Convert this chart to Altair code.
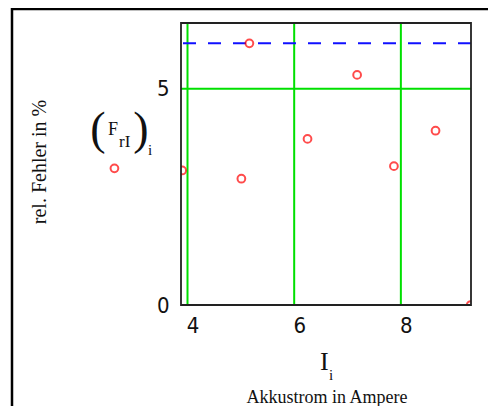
import altair as alt
import pandas as pd

# data
I_vals = [2.63, 3.90, 5.01, 5.16, 6.25, 7.18, 7.87, 8.65, 9.31]
F_vals = [3.16, 3.11, 2.92, 6.05, 3.84, 5.32, 3.21, 4.03, 0.0]
limit_vals = [6.05]
x_ticks = [4, 6, 8]
y_ticks = [0, 5]
x_grid = [4, 6, 8]
y_grid = [5]
x_domain = [3.878, 9.315]
y_domain = [0, 6.52]

W, H = 290, 282
GREEN = "#00e000"
LABEL_FONT = "DejaVu Sans Condensed, DejaVu Sans"
TITLE_FONT = "Liberation Serif"
SERIF = "Liberation Serif"

pts = pd.DataFrame({"I": I_vals, "F": F_vals})

xs = alt.Scale(domain=x_domain, nice=False, zero=False)
ys = alt.Scale(domain=y_domain, nice=False, zero=False)
xax = alt.Axis(values=x_ticks, title=None, grid=False, ticks=False, domain=False,
               labelFont=LABEL_FONT, labelFontSize=22, labelColor="#111",
               labelPadding=10, labelOffset=5)
yax = alt.Axis(values=y_ticks, title=None, grid=False, ticks=False, domain=False,
               labelFont=LABEL_FONT, labelFontSize=22, labelColor="#111",
               labelPadding=12)

X = alt.X("I:Q", scale=xs, axis=xax)
Y = alt.Y("F:Q", scale=ys, axis=yax)

vgrid = alt.Chart(pd.DataFrame({"I": x_grid})).mark_rule(color=GREEN, strokeWidth=2).encode(x=X)
hgrid = alt.Chart(pd.DataFrame({"F": y_grid})).mark_rule(color=GREEN, strokeWidth=2).encode(y=Y)
limit = alt.Chart(pd.DataFrame({"F": limit_vals})).mark_rule(
    color="#1010ff", strokeWidth=2, strokeDash=[13, 12]).encode(y=Y)

base_pts = alt.Chart(pts)
inside = base_pts.transform_filter(f"datum.I >= {x_domain[0]}").mark_point(
    shape="circle", filled=False, color="#ff0000", size=60, strokeWidth=2, clip=True
).encode(x=X, y=Y)
outside = base_pts.transform_filter(f"datum.I < {x_domain[0]}").mark_point(
    shape="circle", filled=False, color="#ff0000", size=60, strokeWidth=2, clip=False
).encode(x=X, y=Y)

one = alt.Data(values=[{}])
frame = alt.Chart(one).mark_rect(fillOpacity=0, stroke="#222", strokeWidth=1.8).encode(
    x=alt.value(0), x2=alt.value(W), y=alt.value(0), y2=alt.value(H))
outer_top = alt.Chart(one).mark_rule(color="#000", strokeWidth=2.5, clip=False).encode(
    x=alt.value(-170), x2=alt.value(330), y=alt.value(-14))
outer_left = alt.Chart(one).mark_rule(color="#000", strokeWidth=2.5, clip=False).encode(
    x=alt.value(-169), y=alt.value(-15), y2=alt.value(420))


def txt(s, x, y, size, font, align="left", angle=0, baseline="alphabetic", weight="normal"):
    return alt.Chart(one).mark_text(text=s, font=font, fontSize=size, align=align,
                                    baseline=baseline, angle=angle, color="#111",
                                    fontWeight=weight).encode(
        x=alt.value(x), y=alt.value(y))


texts = [
    txt("rel. Fehler in %", -141, 139, 20, TITLE_FONT, align="center", angle=270, baseline="middle"),
    txt("Akkustrom in Ampere", 146, 380, 18, TITLE_FONT, align="center"),
    txt("I", 139, 347, 26, SERIF),
    txt("i", 148, 357, 15, SERIF),
    txt("(", -83, 121, 46, SERIF, align="center"),
    txt("F", -73, 112, 18, SERIF),
    txt("rI", -62, 124, 17, SERIF),
    txt(")", -40, 121, 46, SERIF, align="center"),
    txt("i", -33, 132, 15, SERIF),
]

chart = alt.layer(vgrid, hgrid, limit, inside, outside, frame, outer_top, outer_left, *texts).properties(
    width=W, height=H,
    autosize=alt.AutoSizeParams(type="none"),
    padding={"left": 173, "top": 15, "right": 17, "bottom": 101},
).configure_view(stroke=None)

chart.save("out.html", embed_options={"renderer": "svg", "actions": False})
